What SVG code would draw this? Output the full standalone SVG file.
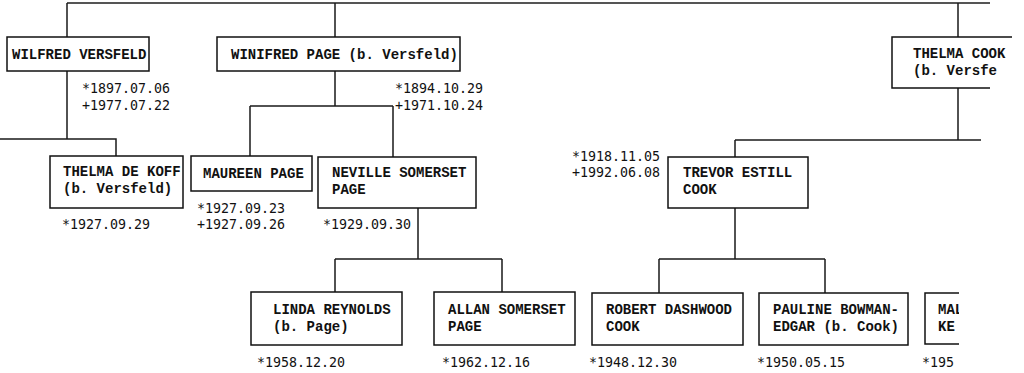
<svg xmlns="http://www.w3.org/2000/svg" width="1024" height="373" viewBox="0 0 1024 373">
<style>
.bx{fill:#fff;stroke:#111;stroke-width:1.5}
.op{fill:none;stroke:#111;stroke-width:1.5}
.cn{fill:none;stroke:#1a1a1a;stroke-width:1.5}
.tp{fill:none;stroke:#555;stroke-width:2}
.nm{font-family:"Liberation Mono",monospace;font-size:14px;font-weight:bold;fill:#111}
.dt{font-family:"DejaVu Sans Mono",monospace;font-size:13.3px;fill:#111}
</style>
<defs>
<clipPath id="cR1"><rect x="0" y="0" width="1008" height="373"/></clipPath>
<clipPath id="cR2"><rect x="0" y="0" width="998" height="373"/></clipPath>
<clipPath id="cB"><rect x="0" y="0" width="959" height="373"/></clipPath>
</defs>
<g id="connectors">
<path class="tp" d="M67,3 H990"/>
<path class="cn" d="M67,3 V37 M335,3 V37 M958,3 V37"/>
<path class="cn" d="M67,71 V139 M0,139 H116 V156"/>
<path class="cn" d="M335,71 V106 M250,106 H393 M250,106 V156 M393,106 V157"/>
<path class="cn" d="M418,208 V259 M335,259 H502 M335,259 V292 M502,259 V292"/>
<path class="cn" d="M958,88 V140 M735,140 H981 M735,140 V157"/>
<path class="cn" d="M735,208 V259 M659,259 H825 M659,259 V293 M825,259 V293"/>
</g>
<g id="wilfred">
<rect class="bx" x="7" y="37" width="142" height="34"/>
<text class="nm" x="12" y="59">WILFRED VERSFELD</text>
<text class="dt" x="82" y="93">*1897.07.06</text>
<text class="dt" x="82" y="110">+1977.07.22</text>
</g>
<g id="winifred">
<rect class="bx" x="217" y="37" width="243" height="34"/>
<text class="nm" x="231" y="59">WINIFRED PAGE (b. Versfeld)</text>
<text class="dt" x="395" y="93">*1894.10.29</text>
<text class="dt" x="395" y="110">+1971.10.24</text>
</g>
<g id="thelma-cook">
<path class="op" d="M1012,37 H892 V88 H990"/>
<text class="nm" x="913" y="58" clip-path="url(#cR1)">THELMA COOK</text>
<text class="nm" x="913" y="75" clip-path="url(#cR2)">(b. Versfeld)</text>
</g>
<g id="thelma-de-koff">
<rect class="bx" x="50" y="156" width="133" height="52"/>
<text class="nm" x="63" y="176">THELMA DE KOFF</text>
<text class="nm" x="63" y="193">(b. Versfeld)</text>
<text class="dt" x="62" y="229">*1927.09.29</text>
</g>
<g id="maureen">
<rect class="bx" x="191" y="156" width="121" height="35"/>
<text class="nm" x="203" y="178">MAUREEN PAGE</text>
<text class="dt" x="197" y="213">*1927.09.23</text>
<text class="dt" x="197" y="229">+1927.09.26</text>
</g>
<g id="neville">
<rect class="bx" x="318" y="157" width="158" height="51"/>
<text class="nm" x="332" y="177">NEVILLE SOMERSET</text>
<text class="nm" x="332" y="194">PAGE</text>
<text class="dt" x="323" y="229">*1929.09.30</text>
</g>
<g id="trevor">
<rect class="bx" x="668" y="157" width="140" height="51"/>
<text class="nm" x="683" y="177">TREVOR ESTILL</text>
<text class="nm" x="683" y="194">COOK</text>
<text class="dt" x="572" y="161">*1918.11.05</text>
<text class="dt" x="572" y="177">+1992.06.08</text>
</g>
<g id="linda">
<rect class="bx" x="251" y="292" width="151" height="53"/>
<text class="nm" x="273" y="314">LINDA REYNOLDS</text>
<text class="nm" x="273" y="331">(b. Page)</text>
<text class="dt" x="257" y="367">*1958.12.20</text>
</g>
<g id="allan">
<rect class="bx" x="434" y="292" width="141" height="53"/>
<text class="nm" x="448" y="314">ALLAN SOMERSET</text>
<text class="nm" x="448" y="331">PAGE</text>
<text class="dt" x="442" y="367">*1962.12.16</text>
</g>
<g id="robert">
<rect class="bx" x="592" y="293" width="151" height="52"/>
<text class="nm" x="606" y="314">ROBERT DASHWOOD</text>
<text class="nm" x="606" y="331">COOK</text>
<text class="dt" x="589" y="367">*1948.12.30</text>
</g>
<g id="pauline">
<rect class="bx" x="759" y="293" width="149" height="52"/>
<text class="nm" x="773" y="314">PAULINE BOWMAN-</text>
<text class="nm" x="773" y="331">EDGAR (b. Cook)</text>
<text class="dt" x="757" y="367">*1950.05.15</text>
</g>
<g id="mal">
<path class="op" d="M959,293 H925 V344 H959"/>
<g clip-path="url(#cB)">
<text class="nm" x="938" y="314">MAL</text>
<text class="nm" x="938" y="331">KE</text>
<text class="dt" x="922" y="367">*195</text>
</g>
</g>
</svg>
